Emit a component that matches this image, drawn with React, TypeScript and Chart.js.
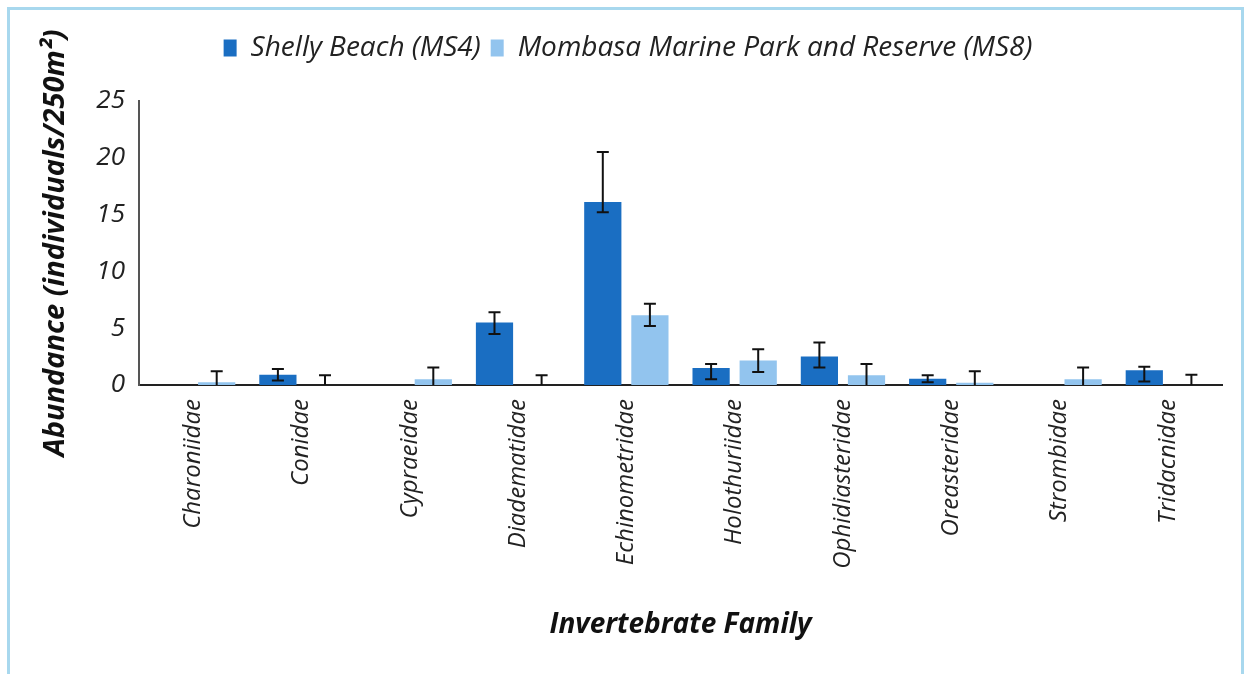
import React, { useEffect, useRef } from "react";
import { Chart, registerables } from "chart.js";

Chart.register(...registerables);

const categories = [
  "Charoniidae",
  "Conidae",
  "Cypraeidae",
  "Diadematidae",
  "Echinometridae",
  "Holothuriidae",
  "Ophidiasteridae",
  "Oreasteridae",
  "Strombidae",
  "Tridacnidae",
];

const seriesNames = ["Shelly Beach (MS4)", "Mombasa Marine Park and Reserve (MS8)"];

const shellyValues = [0, 0.9, 0, 5.5, 16.1, 1.5, 2.5, 0.55, 0, 1.3];
const shellyErrUp = [0, 0.5, 0, 0.9, 4.4, 0.35, 1.25, 0.3, 0, 0.3];
const shellyErrDown = [0, 0.5, 0, 1.0, 0.9, 1.0, 0.95, 0.3, 0, 1.0];

const mombasaValues = [0.25, 0, 0.5, 0, 6.15, 2.15, 0.85, 0.2, 0.5, 0];
const mombasaErrUp = [0.95, 0.85, 1.05, 0.85, 1.0, 1.0, 1.0, 1.0, 1.05, 0.9];
const mombasaErrDown = [0.95, 0.85, 1.05, 0.85, 0.95, 1.0, 1.0, 1.0, 1.05, 0.9];

const yTicks = [0, 5, 10, 15, 20, 25];

const FONT = "'Open Sans', 'DejaVu Sans', sans-serif";

const PAD_TOP = 24;
const PLOT_TOP = 101;
const PLOT_BOTTOM = 385;
const PLOT_LEFT = 139;
const PAD_LEFT = 34;
const PAD_BOTTOM = 28;

const legendSpacer = {
  id: "legendSpacer",
  beforeLayout(chart: any) {
    const lg = chart.legend;
    if (lg && !lg._spaced) {
      const f = lg.fit;
      lg.fit = function () {
        f.call(this);
        this.height = PLOT_TOP - PAD_TOP;
      };
      lg._spaced = true;
    }
  },
};

const errorBarPlugin = {
  id: "errorBars",
  afterDatasetsDraw(chart: any) {
    const { ctx, chartArea } = chart;
    const yScale = chart.scales.y;
    const errs = [
      [shellyErrUp, shellyErrDown],
      [mombasaErrUp, mombasaErrDown],
    ];
    ctx.save();
    ctx.beginPath();
    ctx.rect(chartArea.left, chartArea.top - 5, chartArea.right - chartArea.left, chartArea.bottom - chartArea.top + 5);
    ctx.clip();
    ctx.strokeStyle = "#111";
    ctx.lineWidth = 2;
    chart.data.datasets.forEach((ds: any, di: number) => {
      const meta = chart.getDatasetMeta(di);
      const [up, down] = errs[di];
      meta.data.forEach((el: any, i: number) => {
        const v = ds.data[i];
        if (!up[i] && !down[i]) return;
        const x = el.x;
        const yTop = yScale.getPixelForValue(v + up[i]);
        const yBot = yScale.getPixelForValue(v - down[i]);
        const cap = 6;
        ctx.beginPath();
        ctx.moveTo(x, yTop);
        ctx.lineTo(x, yBot);
        ctx.moveTo(x - cap, yTop);
        ctx.lineTo(x + cap, yTop);
        ctx.moveTo(x - cap, yBot);
        ctx.lineTo(x + cap, yBot);
        ctx.stroke();
      });
    });
    ctx.restore();
  },
};

export default function App() {
  const ref = useRef<HTMLCanvasElement>(null);
  useEffect(() => {
    if (!ref.current) return;
    const chart = new Chart(ref.current, {
      type: "bar",
      data: {
        labels: categories,
        datasets: [
          {
            label: seriesNames[0],
            data: shellyValues,
            backgroundColor: "#1a6ec2",
            categoryPercentage: 0.87,
            barPercentage: 0.79,
          },
          {
            label: seriesNames[1],
            data: mombasaValues,
            backgroundColor: "#92c4ee",
            categoryPercentage: 0.87,
            barPercentage: 0.79,
          },
        ],
      },
      options: {
        animation: false,
        responsive: false,
        maintainAspectRatio: false,
        layout: { padding: { left: PAD_LEFT, right: 28, top: PAD_TOP, bottom: PAD_BOTTOM } },
        plugins: {
          legend: {
            position: "top",
            labels: {
              boxWidth: 13,
              boxHeight: 17,
              padding: 10,
              color: "#222",
              font: { family: FONT, size: 28, style: "italic" },
            },
          },
          tooltip: { enabled: false },
        },
        scales: {
          x: {
            grid: { display: false, drawTicks: false },
            border: { display: true, color: "#222", width: 2 },
            ticks: {
              minRotation: 90,
              maxRotation: 90,
              padding: 14,
              color: "#222",
              font: { family: FONT, size: 24, style: "italic" },
            },
            title: {
              display: true,
              text: "Invertebrate Family",
              color: "#111",
              padding: { top: 4, bottom: 4 },
              font: { family: FONT, size: 28, weight: "bold", style: "italic" },
            },
            afterFit: (scale: any) => {
              scale.height = 674 - PLOT_BOTTOM - PAD_BOTTOM;
            },
          },
          y: {
            min: 0,
            max: 25,
            afterBuildTicks: (scale: any) => {
              scale.ticks = yTicks.map((v) => ({ value: v }));
            },
            grid: { display: false, drawTicks: false },
            border: { display: true, color: "#555", width: 2 },
            ticks: {
              padding: 14,
              color: "#222",
              font: { family: FONT, size: 26, style: "italic" },
            },
            title: {
              display: true,
              text: "Abundance (individuals/250m²)",
              color: "#111",
              padding: { top: 4, bottom: 4 },
              font: { family: FONT, size: 29, weight: "bold", style: "italic" },
            },
            afterFit: (scale: any) => {
              scale.width = PLOT_LEFT - PAD_LEFT;
            },
          },
        },
      },
      plugins: [legendSpacer, errorBarPlugin],
    });
    return () => chart.destroy();
  }, []);
  return (
    <div style={{ position: "fixed", left: 0, top: 0, width: 1250, height: 674, background: "#fff" }}>
      <div
        style={{
          position: "absolute",
          left: 7,
          top: 7,
          width: 1237,
          height: 690,
          border: "3px solid #a8d8ee",
          boxSizing: "border-box",
        }}
      />
      <canvas ref={ref} width={1250} height={674} style={{ position: "absolute", left: 0, top: 0 }} />
    </div>
  );
}
